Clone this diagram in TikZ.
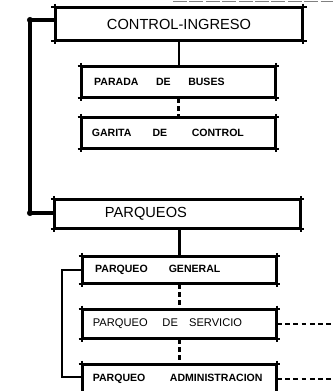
\documentclass[tikz,border=0pt]{standalone}
\usepackage{fontspec}
\setmainfont{Liberation Sans}
\usetikzlibrary{arrows}

\begin{document}
\begin{tikzpicture}[x=0.03cm,y=-0.03cm,line width=1.5pt]
  \tikzstyle{caja_grande}=[rectangle,draw=black,
                                    line width=1.5pt,
                                    minimum width=7.4cm,
                                    minimum height=0.95cm,
                                    font=\fontsize{12.5}{14}\selectfont]
  \tikzstyle{caja}=[rectangle,draw=black,
                                    line width=1.5pt,
                                    minimum width=5.8cm,
                                    minimum height=0.85cm,
                                    text width=5.2cm,
                                    inner xsep=0.3cm,
                                    align=left,
                                    font=\bfseries\fontsize{9}{10}\selectfont]
  \tikzstyle{caja_fina}=[caja,font=\fontsize{9.5}{11}\selectfont]
  \tikzstyle{linea_gruesa}=[line width=3.4pt,line join=round]
  \tikzstyle{linea}=[line width=2pt]
  \tikzstyle{punteada}=[line width=2pt,dash pattern=on 4pt off 3pt]
  \useasboundingbox (0,0) rectangle (333,391);
  %Nodos control
  \node[caja_grande] (ctrl) at (179,24) {CONTROL-INGRESO};
  \node[caja] (parada) [minimum height=0.9cm] at (178.5,82) {\hspace{2pt}PARADA\quad\ \ DE\quad\ \ BUSES};
  \node[caja] (garita) [minimum height=0.9cm] at (178.5,133) {GARITA\quad\ \ \ DE\qquad\ CONTROL};
  %Nodos parqueos
  \node[caja_grande] (parq) [minimum width=7.35cm,minimum height=0.84cm,
        text width=4.35cm,inner xsep=1.5cm,align=left] at (177.5,214) {PARQUEOS};
  \node[caja] (pgen) [minimum height=0.78cm] at (179.5,270) {\hspace{2pt}PARQUEO\qquad GENERAL};
  \node[caja_fina] (pserv) at (179.5,324) {PARQUEO\ \ \ \ DE\ \ \ SERVICIO};
  \node[caja] (padm) at (179.5,379) {PARQUEO\qquad\ ADMINISTRACION};
  %Esquinas
  \foreach \n in {ctrl,parada,garita,parq,pgen,pserv,padm}{
    \draw ([xshift=-1mm]\n.north west) -- ([xshift=1mm]\n.north east);
    \draw ([xshift=-1mm]\n.south west) -- ([xshift=1mm]\n.south east);
    \draw ([yshift=1mm]\n.north west) -- ([yshift=-1mm]\n.south west);
    \draw ([yshift=1mm]\n.north east) -- ([yshift=-1mm]\n.south east);
  }
  %Puntos auxiliares
  \coordinate (jt) at (30,20);
  \coordinate (jb) at (30,213);
  \coordinate (bt) at (62,270);
  \coordinate (bb) at (62,377);
  \coordinate (der) at (333,0);
  %Conexiones
  \draw[linea] (ctrl.south) -- (ctrl.south |- parada.north);
  \draw[punteada] (parada.south) -- (garita.north);
  \draw[linea_gruesa] (ctrl.west |- jt) -- (jt) -- (jb) -- (parq.west |- jb);
  \fill (jt) circle (2.6pt) (jb) circle (2.6pt);
  \draw[linea] (parq.south -| pgen.north) -- (pgen.north);
  \draw[punteada] (pgen.south) -- (pserv.north);
  \draw[punteada] (pserv.south) -- (padm.north);
  \draw[line width=1.5pt] (pgen.west) -- (bt) -- (bb) -- (bb -| padm.west);
  \draw[punteada,line width=1.5pt] (pserv.east) -- (pserv.east -| der);
  \draw[punteada,line width=1.5pt] (padm.east) -- (padm.east -| der);
  \draw[gray,line width=0.8pt,dash pattern=on 12pt off 2pt] (173,1.5) -- (333,1.5);
\end{tikzpicture}
\end{document}
